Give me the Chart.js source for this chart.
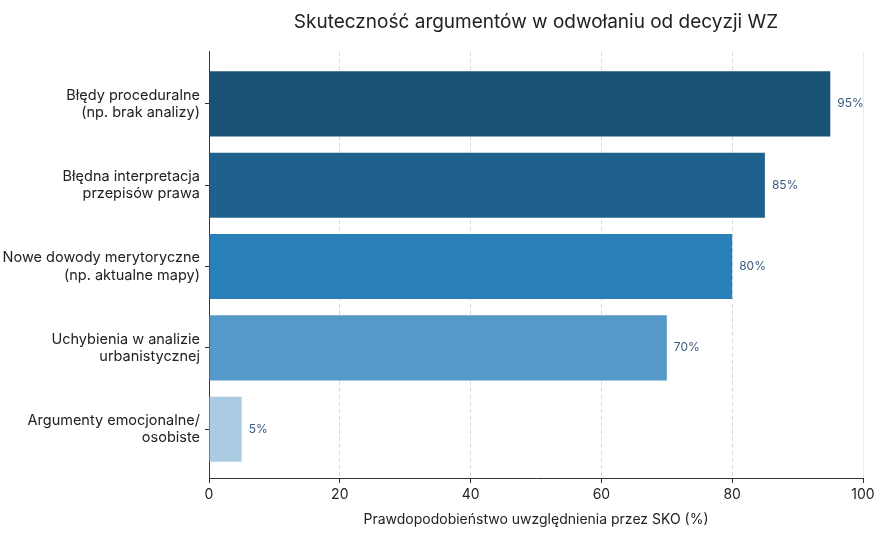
<!DOCTYPE html>
<html>
<head>
<meta charset="utf-8">
<script src="https://cdn.jsdelivr.net/npm/chart.js@4.4.1/dist/chart.umd.min.js"></script>
<style>
  html, body { margin: 0; padding: 0; background: #ffffff; }
  #wrap { width: 880px; height: 540px; position: relative; }
</style>
</head>
<body>
<div id="wrap"><canvas id="c" width="880" height="540"></canvas></div>
<script>
const categories = [
  ["Błędy proceduralne", "(np. brak analizy)"],
  ["Błędna interpretacja", "przepisów prawa"],
  ["Nowe dowody merytoryczne", "(np. aktualne mapy)"],
  ["Uchybienia w analizie", "urbanistycznej"],
  ["Argumenty emocjonalne/", "osobiste"]
];
const values = [95, 85, 80, 70, 5];
const barColors = ["#1a5276", "#1f618d", "#2980b9", "#5499c7", "#a9cce3"];
const xTicks = [0, 20, 40, 60, 80, 100];
const titleText = "Skuteczność argumentów w odwołaniu od decyzji WZ";
const xTitle = "Prawdopodobieństwo uwzględnienia przez SKO (%)";

const FONT = "Inter, 'Noto Sans', sans-serif";
const X_MAX = xTicks[xTicks.length - 1];

const points = values.map((v, i) => ({ x: v, y: i }));

const titleCenterPlugin = {
  id: 'titleCenter',
  afterLayout(chart) {
    const tb = chart.titleBlock;
    if (tb) { tb.left = chart.chartArea.left; tb.right = chart.chartArea.right; }
  }
};

const edgeLine = {
  id: 'edgeLine',
  beforeDatasetsDraw(chart) {
    const ctx = chart.ctx;
    const xs = chart.scales.x;
    const a = chart.chartArea;
    const px = Math.round(xs.getPixelForValue(X_MAX)) + 0.5;
    ctx.save();
    ctx.strokeStyle = '#ebebeb';
    ctx.lineWidth = 1;
    ctx.beginPath();
    ctx.moveTo(px, a.top);
    ctx.lineTo(px, a.bottom);
    ctx.stroke();
    ctx.restore();
  }
};

const valueLabels = {
  id: 'valueLabels',
  afterDatasetsDraw(chart) {
    const ctx = chart.ctx;
    const meta = chart.getDatasetMeta(0);
    ctx.save();
    ctx.font = "12px " + FONT;
    ctx.fillStyle = "#3b5a7e";
    ctx.textAlign = "left";
    ctx.textBaseline = "middle";
    meta.data.forEach((bar, i) => {
      ctx.fillText(values[i] + "%", bar.x + 7, bar.y);
    });
    ctx.restore();
  }
};

new Chart(document.getElementById('c'), {
  type: 'bar',
  data: {
    datasets: [{
      data: points,
      backgroundColor: barColors,
      borderWidth: 0,
      barPercentage: 0.8,
      categoryPercentage: 1.0
    }]
  },
  options: {
    indexAxis: 'y',
    responsive: false,
    animation: false,
    devicePixelRatio: 1,
    layout: { padding: { left: 0, right: 17, top: 0, bottom: 0 } },
    plugins: {
      legend: { display: false },
      tooltip: { enabled: false },
      title: {
        display: true,
        text: titleText,
        color: "#222222",
        font: { family: FONT, size: 19, weight: 'normal', lineHeight: 1.2 },
        padding: { top: 11, bottom: 18 }
      }
    },
    scales: {
      x: {
        type: 'linear',
        min: 0, max: X_MAX,
        afterBuildTicks(scale) { scale.ticks = xTicks.map(v => ({ value: v })); },
        afterFit(scale) { scale.height = 62; },
        grid: {
          color: (c) => (c.tick && (c.tick.value === 0 || c.tick.value === X_MAX)) ? 'rgba(0,0,0,0)' : '#d9d9d9',
          lineWidth: 1,
          drawTicks: true,
          tickLength: 5,
          tickColor: '#333333',
          tickBorderDash: []
        },
        border: { display: true, color: '#333333', width: 1, dash: [4, 3] },
        ticks: {
          color: '#222222',
          padding: 3,
          font: { family: FONT, size: 14 },
          maxRotation: 0
        },
        title: {
          display: true,
          text: xTitle,
          color: '#222222',
          font: { family: FONT, size: 14 },
          padding: { top: 0, bottom: 12 }
        }
      },
      y: {
        type: 'linear',
        min: -0.64, max: 4.6,
        reverse: true,
        offset: false,
        afterFit(scale) { scale.width = 209; },
        afterBuildTicks(scale) { scale.ticks = categories.map((_, i) => ({ value: i })); },
        grid: {
          offset: false,
          drawOnChartArea: false,
          drawTicks: true,
          tickLength: 4,
          color: '#333333'
        },
        border: { display: true, color: '#333333', width: 1 },
        ticks: {
          color: '#222222',
          padding: 5,
          font: { family: FONT, size: 14.5, lineHeight: 1.2 },
          callback: (v) => categories[v] || ''
        }
      }
    }
  },
  plugins: [titleCenterPlugin, edgeLine, valueLabels]
});
</script>
</body>
</html>
